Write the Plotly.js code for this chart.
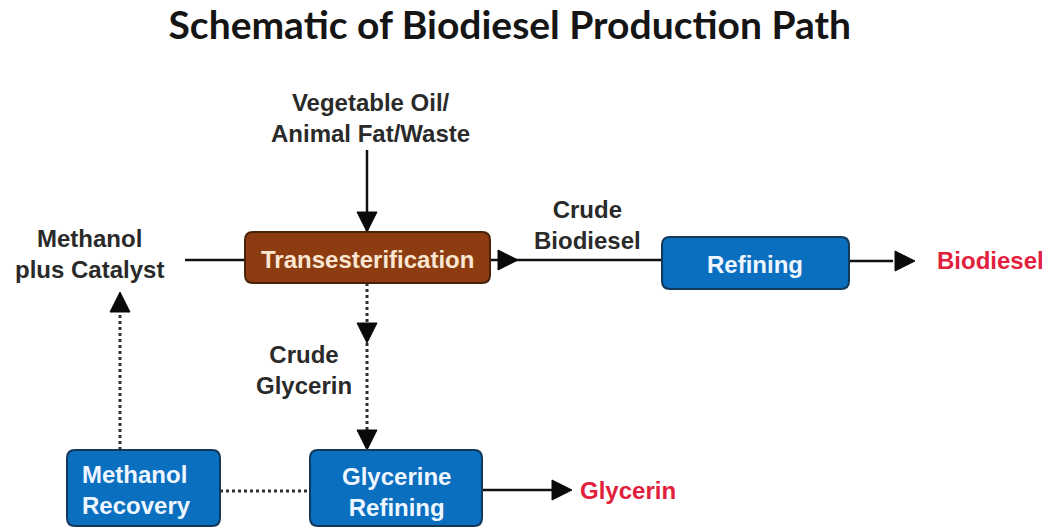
<!DOCTYPE html>
<html>
<head>
<meta charset="utf-8">
<script src="https://cdn.plot.ly/plotly-3.0.1.min.js"></script>
<style>html,body{margin:0;padding:0;background:#fff;}#chart{width:1051px;height:528px;}</style>
</head>
<body>
<div id="chart"></div>
<script>
// ---- diagram data ----
const chartTitle = 'Schematic of Biodiesel Production Path';

// process boxes
const nodeLabels = ['Transesterification', 'Refining', 'Methanol<br>Recovery', 'Glycerine<br>Refining'];
const nodeKind   = ['brown', 'blue', 'blue', 'blue'];
const nodeLeft   = [245, 662, 67, 310];
const nodeRight  = [490, 849, 220, 482];
const nodeTop    = [232, 237, 450, 450];
const nodeBottom = [283, 289, 526, 526];
const nodeTextX  = [367, 755, 80, 396];
const nodeTextY  = [259, 264, 490, 492];
const nodeAlign  = ['center', 'center', 'left', 'center'];

// free text labels
const labelTexts = ['Vegetable Oil/<br>Animal Fat/Waste', 'Methanol<br>plus Catalyst', 'Crude<br>Biodiesel', 'Crude<br>Glycerin', 'Biodiesel', 'Glycerin'];
const labelX     = [370, 89, 587, 304, 935, 578];
const labelY     = [118, 254, 225, 370, 260, 490];
const labelAnchor= ['center', 'center', 'center', 'center', 'left', 'left'];
const labelKind  = ['dark', 'dark', 'dark', 'dark', 'red', 'red'];

// connecting lines
const linkX0   = [367, 185, 490, 849, 482, 367, 120, 220];
const linkY0   = [150, 260, 260, 261, 490, 283, 450, 491];
const linkX1   = [367, 245, 662, 893, 552, 367, 120, 310];
const linkY1   = [232, 260, 260, 261, 490, 450, 310, 491];
const linkDash = ['solid', 'solid', 'solid', 'solid', 'solid', 'dot', 'dot', 'dot'];

// arrow heads: tip position and pointing direction
const headX   = [367, 518, 915, 572, 367, 367, 120];
const headY   = [232, 260, 261, 490, 343, 450, 292];
const headDir = ['down', 'right', 'right', 'right', 'down', 'down', 'up'];

// ---- styles ----
const fills   = {brown: '#8c3c10', blue: '#0b6fc0'};
const borders = {brown: '#4a2208', blue: '#12385a'};
const nodeFont= {brown: '#fbe6d2', blue: '#eef6ff'};
const labelColors = {dark: '#2a2a2a', red: '#e2203c'};
const FONT = '"Liberation Sans", Arial, sans-serif';

function roundRect(x0, y0, x1, y1, r) {
  return `M${x0 + r},${y0} L${x1 - r},${y0} Q${x1},${y0} ${x1},${y0 + r} ` +
         `L${x1},${y1 - r} Q${x1},${y1} ${x1 - r},${y1} L${x0 + r},${y1} ` +
         `Q${x0},${y1} ${x0},${y1 - r} L${x0},${y0 + r} Q${x0},${y0} ${x0 + r},${y0} Z`;
}
function head(x, y, dir) {
  const L = 20, W = 10;
  if (dir === 'down')  return `M${x},${y} L${x - W},${y - L} L${x + W},${y - L} Z`;
  if (dir === 'up')    return `M${x},${y} L${x - W},${y + L} L${x + W},${y + L} Z`;
  if (dir === 'right') return `M${x},${y} L${x - L},${y - W} L${x - L},${y + W} Z`;
  return `M${x},${y} L${x + L},${y - W} L${x + L},${y + W} Z`;
}

const shapes = [];
linkX0.forEach((x0, i) => {
  shapes.push({type: 'line', xref: 'x', yref: 'y', x0: x0, y0: linkY0[i], x1: linkX1[i], y1: linkY1[i],
    line: {color: linkDash[i] === 'dot' ? '#303030' : '#111', width: linkDash[i] === 'dot' ? 3 : 2.5, dash: linkDash[i]}});
});
headX.forEach((x, i) => {
  shapes.push({type: 'path', xref: 'x', yref: 'y', path: head(x, headY[i], headDir[i]),
    fillcolor: '#0a0a0a', line: {color: '#0a0a0a', width: 1}});
});
nodeLabels.forEach((t, i) => {
  const k = nodeKind[i];
  shapes.push({type: 'path', xref: 'x', yref: 'y',
    path: roundRect(nodeLeft[i], nodeTop[i], nodeRight[i], nodeBottom[i], 8),
    fillcolor: fills[k], line: {color: borders[k], width: 2}});
});

const annotations = [];
nodeLabels.forEach((t, i) => {
  annotations.push({xref: 'x', yref: 'y', x: nodeTextX[i], y: nodeTextY[i], text: '<b>' + t + '</b>',
    showarrow: false, xanchor: nodeAlign[i], yanchor: 'middle', align: nodeAlign[i],
    font: {family: FONT, size: 24, color: nodeFont[nodeKind[i]]}});
});
labelTexts.forEach((t, i) => {
  annotations.push({xref: 'x', yref: 'y', x: labelX[i], y: labelY[i], text: '<b>' + t + '</b>',
    showarrow: false, xanchor: labelAnchor[i], yanchor: 'middle', align: 'center',
    font: {family: FONT, size: 24, color: labelColors[labelKind[i]]}});
});

const layout = {
  width: 1051, height: 528,
  margin: {l: 0, r: 0, t: 0, b: 0, pad: 0},
  paper_bgcolor: '#ffffff', plot_bgcolor: '#ffffff',
  showlegend: false,
  title: {text: '<b>' + chartTitle + '</b>', x: 0.485, xanchor: 'center', y: 0.952, yanchor: 'middle', yref: 'container',
    font: {family: 'Lato, "Open Sans", sans-serif', size: 39, color: '#151515'}},
  xaxis: {range: [0, 1051], visible: false, fixedrange: true},
  yaxis: {range: [528, 0], visible: false, fixedrange: true},
  shapes: shapes,
  annotations: annotations
};

Plotly.newPlot('chart', [{x: [], y: [], type: 'scatter', mode: 'markers', hoverinfo: 'skip'}], layout,
  {staticPlot: true, displayModeBar: false});
</script>
</body>
</html>
